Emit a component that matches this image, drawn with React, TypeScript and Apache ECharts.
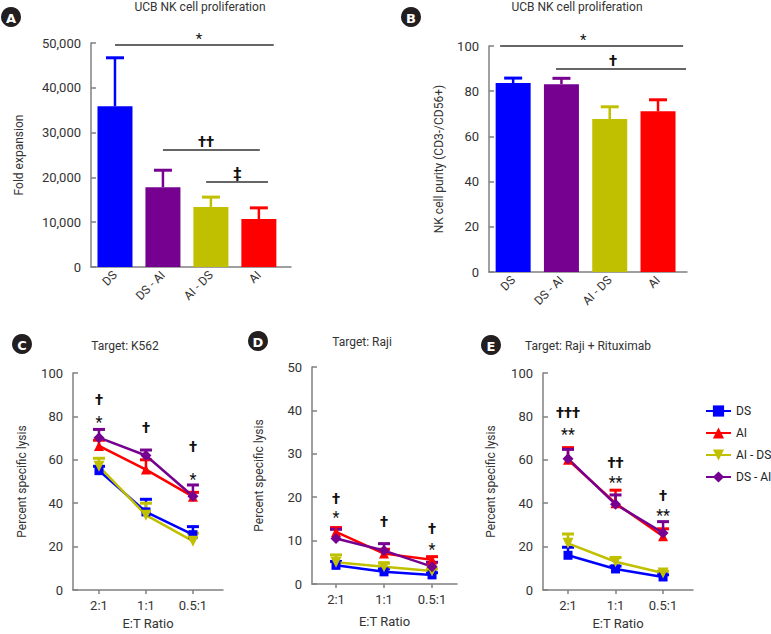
import React, { useEffect, useRef } from "react";
import * as echarts from "echarts";

// ---------- data ----------
const barCategories = ["DS", "DS - AI", "AI - DS", "AI"];
const barColors = ["#0000ff", "#76008f", "#c0c000", "#ff0000"];
const foldExpansion = [35900, 17800, 13400, 10700];
const foldExpansionUpper = [46700, 21600, 15600, 13200];
const nkPurity = [83.6, 83.1, 67.7, 71.1];
const nkPurityUpper = [85.8, 85.7, 73.1, 76.2];

const ratioLabels = ["2:1", "1:1", "0.5:1"];
const groupNames = ["DS", "AI", "AI - DS", "DS - AI"];
const groupColors = ["#0000ff", "#ff0000", "#c0c000", "#76008f"];
const groupSymbols = ["rect", "triangle", "triangle", "diamond"];
const groupSymbolRotate = [0, 0, 180, 0];
const groupSymbolSize = [9, 10, 11, 11];

// Target: K562
const k562DS = [55, 36, 25.5];
const k562AI = [66.4, 55.5, 43];
const k562AIDS = [57, 34.5, 22.5];
const k562DSAI = [70.2, 62, 43.2];
const k562DSUpper = [57, 41.8, 29.2];
const k562AIUpper = [69, 60, 45];
const k562AIDSUpper = [60.7, 40, 26.2];
const k562DSAIUpper = [74, 64.5, 48.4];

// Target: Raji
const rajiDS = [4.3, 2.8, 2.1];
const rajiAI = [12, 7, 5.6];
const rajiAIDS = [5, 4, 3];
const rajiDSAI = [10.5, 7.7, 4];
const rajiDSUpper = [5.2, 3.5, 2.6];
const rajiAIUpper = [13, 8, 6.3];
const rajiAIDSUpper = [6.7, 4.8, 3.5];
const rajiDSAIUpper = [12.6, 9.3, 5];

// Target: Raji + Rituximab
const ritDS = [16, 9.7, 6];
const ritAI = [60, 40, 24.8];
const ritAIDS = [21.5, 13, 7.8];
const ritDSAI = [60.5, 39.5, 26.3];
const ritDSUpper = [19.7, 11, 7];
const ritAIUpper = [65.6, 46, 28.2];
const ritAIDSUpper = [25.8, 15, 8.7];
const ritDSAIUpper = [64.8, 43.8, 31.5];

// significance brackets (x in category index units, y in data units)
const sigA = [
  { x1: 0, x2: 3.31, y: 49550, lx: 1.75, text: "*" },
  { x1: 1, x2: 3.02, y: 26100, lx: 1.9, text: "††" },
  { x1: 1.9, x2: 3.19, y: 19000, lx: 2.55, text: "‡" },
];
const sigB = [
  { x1: -0.27, x2: 3.52, y: 100, lx: 1.45, text: "*" },
  { x1: 0.887, x2: 3.58, y: 89.8, lx: 2.07, text: "†" },
];
const annC = [
  { x: 0, y: 87.6, text: "†" },
  { x: 0, y: 78.7, text: "*" },
  { x: 1, y: 74.8, text: "†" },
  { x: 2, y: 66, text: "†" },
  { x: 2, y: 52.5, text: "*" },
];
const annD = [
  { x: 0, y: 19.7, text: "†" },
  { x: 0, y: 15.9, text: "*" },
  { x: 1, y: 14.4, text: "†" },
  { x: 2, y: 12.6, text: "†" },
  { x: 2, y: 8.6, text: "*" },
];
const annE = [
  { x: 0, y: 81.7, text: "†††" },
  { x: 0, y: 73, text: "**" },
  { x: 1, y: 58.7, text: "††" },
  { x: 1, y: 50.7, text: "**" },
  { x: 2, y: 43.5, text: "†" },
  { x: 2, y: 35.6, text: "**" },
];

// ---------- styles ----------
const FONT = 'Roboto, "Liberation Sans", sans-serif';
const AXIS_COLOR = "#808080";
const TEXT_COLOR = "#333";

function makeYAxis(gridIndex: number, max: number, interval: number, name: string, nameGap: number, formatter?: any) {
  return {
    type: "value",
    gridIndex,
    min: 0,
    max,
    interval,
    name,
    nameLocation: "middle",
    nameGap,
    nameTextStyle: { fontFamily: FONT, fontSize: 12, color: TEXT_COLOR },
    axisLine: { show: true, onZero: false, lineStyle: { color: AXIS_COLOR, width: 1.5 } },
    axisTick: { show: true, inside: true, length: 5, lineStyle: { color: AXIS_COLOR, width: 1.5 } },
    splitLine: { show: false },
    axisLabel: { fontFamily: FONT, fontSize: 13, color: TEXT_COLOR, margin: 10, formatter },
  };
}

function makeBarXAxis(gridIndex: number, max: number) {
  return {
    type: "value",
    gridIndex,
    min: -0.5,
    max,
    axisLine: { show: true, onZero: false, lineStyle: { color: AXIS_COLOR, width: 1.5 } },
    axisTick: { show: false },
    splitLine: { show: false },
    axisLabel: {
      customValues: [0, 1, 2, 3],
      formatter: (v: number) => barCategories[v] ?? "",
      rotate: 45,
      margin: 6,
      fontFamily: FONT,
      fontSize: 12,
      color: TEXT_COLOR,
    },
  };
}

function makeRatioXAxis(gridIndex: number, min: number, max: number, nameGap: number) {
  return {
    type: "value",
    gridIndex,
    min,
    max,
    name: "E:T Ratio",
    nameLocation: "middle",
    nameGap,
    nameTextStyle: { fontFamily: FONT, fontSize: 13, color: TEXT_COLOR },
    axisLine: { show: true, onZero: false, lineStyle: { color: AXIS_COLOR, width: 1.5 } },
    axisTick: { show: true, customValues: [0, 1, 2], length: 4, lineStyle: { color: AXIS_COLOR, width: 1.5 } },
    splitLine: { show: false },
    axisLabel: {
      customValues: [0, 1, 2],
      formatter: (v: number) => ratioLabels[v] ?? "",
      margin: 9,
      fontFamily: FONT,
      fontSize: 13,
      color: TEXT_COLOR,
    },
  };
}

function errorBarSeries(axisIndex: number, values: number[], uppers: number[], color: string | string[], capWidth: number) {
  return {
    type: "custom",
    xAxisIndex: axisIndex,
    yAxisIndex: axisIndex,
    z: 1,
    silent: true,
    data: values.map((v, i) => [i, v, uppers[i]]),
    encode: { x: 0, y: [1, 2] },
    renderItem: (params: any, api: any) => {
      const i = params.dataIndex;
      const c = Array.isArray(color) ? color[i] : color;
      const p0 = api.coord([api.value(0), api.value(1)]);
      const p1 = api.coord([api.value(0), api.value(2)]);
      return {
        type: "group",
        children: [
          { type: "line", shape: { x1: p0[0], y1: p0[1], x2: p1[0], y2: p1[1] }, style: { stroke: c, lineWidth: 2.5 } },
          {
            type: "line",
            shape: { x1: p1[0] - capWidth / 2, y1: p1[1], x2: p1[0] + capWidth / 2, y2: p1[1] },
            style: { stroke: c, lineWidth: 3 },
          },
        ],
      };
    },
  };
}

function sigSeries(axisIndex: number, items: any[]) {
  return {
    type: "custom",
    xAxisIndex: axisIndex,
    yAxisIndex: axisIndex,
    z: 5,
    silent: true,
    data: items.map((it) => [it.x1, it.y]),
    encode: { x: 0, y: 1 },
    renderItem: (params: any, api: any) => {
      const it = items[params.dataIndex];
      const p1 = api.coord([it.x1, it.y]);
      const p2 = api.coord([it.x2, it.y]);
      const pl = api.coord([it.lx, it.y]);
      return {
        type: "group",
        children: [
          { type: "line", shape: { x1: p1[0], y1: p1[1], x2: p2[0], y2: p2[1] }, style: { stroke: "#333", lineWidth: 1.5 } },
          {
            type: "text",
            x: pl[0],
            y: pl[1] - (it.text === "*" ? -1 : 1),
            style: {
              text: it.text,
              align: "center",
              verticalAlign: "bottom",
              fill: "#111",
              fontFamily: FONT,
              fontSize: 15,
              fontWeight: it.text === "*" ? "normal" : "bold",
            },
          },
        ],
      };
    },
  };
}

function annSeries(axisIndex: number, items: any[]) {
  return {
    type: "custom",
    xAxisIndex: axisIndex,
    yAxisIndex: axisIndex,
    z: 5,
    silent: true,
    data: items.map((it) => [it.x, it.y]),
    encode: { x: 0, y: 1 },
    renderItem: (params: any, api: any) => {
      const it = items[params.dataIndex];
      const p = api.coord([it.x, it.y]);
      const isStar = it.text.indexOf("*") >= 0;
      return {
        type: "text",
        x: p[0],
        y: p[1] + (isStar ? 3 : 0),
        style: {
          text: it.text,
          align: "center",
          verticalAlign: "middle",
          fill: "#111",
          fontFamily: FONT,
          fontSize: isStar ? 16 : 15,
          fontWeight: isStar ? "normal" : "bold",
        },
      };
    },
  };
}

function groupSeries(axisIndex: number, sets: number[][], uppers: number[][]) {
  const out: any[] = [];
  sets.forEach((vals, g) => {
    out.push(errorBarSeries(axisIndex, vals, uppers[g], groupColors[g], 12));
  });
  sets.forEach((vals, g) => {
    out.push({
      type: "line",
      name: groupNames[g],
      xAxisIndex: axisIndex,
      yAxisIndex: axisIndex,
      z: 3,
      data: vals.map((v, i) => [i, v]),
      symbol: groupSymbols[g],
      symbolRotate: groupSymbolRotate[g],
      symbolSize: groupSymbolSize[g],
      itemStyle: { color: groupColors[g] },
      lineStyle: { color: groupColors[g], width: 2.5 },
    });
  });
  return out;
}

const badges = [
  { label: "A", x: 11, y: 17 },
  { label: "B", x: 411, y: 17 },
  { label: "C", x: 22, y: 344 },
  { label: "D", x: 258, y: 341 },
  { label: "E", x: 491, y: 345 },
];

export default function App() {
  const ref = useRef<HTMLDivElement>(null);

  useEffect(() => {
    document.body.style.margin = "0";
    if (!ref.current) return;
    const chart = echarts.init(ref.current, undefined, { renderer: "svg" });

    const titleStyle = { fontFamily: FONT, fontSize: 12, color: TEXT_COLOR, fontWeight: "normal" };
    const option: any = {
      animation: false,
      backgroundColor: "#ffffff",
      title: [
        { text: "UCB NK cell proliferation", left: 200, top: 1, textAlign: "center", textStyle: titleStyle, padding: 0 },
        { text: "UCB NK cell proliferation", left: 577, top: 1, textAlign: "center", textStyle: titleStyle, padding: 0 },
        { text: "Target: K562", left: 125, top: 340, textAlign: "center", textStyle: titleStyle, padding: 0 },
        { text: "Target: Raji", left: 362, top: 336, textAlign: "center", textStyle: titleStyle, padding: 0 },
        { text: "Target: Raji + Rituximab", left: 588, top: 340, textAlign: "center", textStyle: titleStyle, padding: 0 },
      ],
      legend: {
        data: groupNames,
        orient: "vertical",
        left: 700,
        top: 400,
        itemWidth: 25,
        itemHeight: 14,
        itemGap: 10,
        textStyle: { fontFamily: FONT, fontSize: 12, color: "#222" },
      },
      grid: [
        { left: 91, top: 43, width: 200, height: 224 },
        { left: 489, top: 46, width: 198, height: 226 },
        { left: 73, top: 373, width: 150, height: 217 },
        { left: 312, top: 367, width: 145, height: 217 },
        { left: 543, top: 373, width: 150, height: 217 },
      ],
      xAxis: [
        makeBarXAxis(0, 3.67),
        makeBarXAxis(1, 3.6),
        makeRatioXAxis(2, -0.553, 2.64, 27),
        makeRatioXAxis(3, -0.5, 2.52, 31),
        makeRatioXAxis(4, -0.526, 2.63, 27),
      ],
      yAxis: [
        makeYAxis(0, 50000, 10000, "Fold expansion", 66, (v: number) => v.toLocaleString("en-US")),
        makeYAxis(1, 100, 20, "NK cell purity (CD3-/CD56+)", 44),
        makeYAxis(2, 100, 20, "Percent specific lysis", 45),
        makeYAxis(3, 50, 10, "Percent specific lysis", 47),
        makeYAxis(4, 100, 20, "Percent specific lysis", 46),
      ],
      graphic: badges.map((b) => ({
        type: "group",
        x: b.x,
        y: b.y,
        children: [
          { type: "circle", shape: { cx: 0, cy: 0, r: 10 }, style: { fill: "#231f20" } },
          {
            type: "text",
            x: 0,
            y: 1,
            style: {
              text: b.label,
              align: "center",
              verticalAlign: "middle",
              fill: "#ffffff",
              fontFamily: '"DejaVu Sans", sans-serif',
              fontWeight: "bold",
              fontSize: 13,
            },
          },
        ],
      })),
      series: [
        errorBarSeries(0, foldExpansion, foldExpansionUpper, barColors, 18),
        {
          type: "bar",
          name: "Fold expansion",
          xAxisIndex: 0,
          yAxisIndex: 0,
          barWidth: 35,
          z: 2,
          data: foldExpansion.map((v, i) => ({ value: [i, v], itemStyle: { color: barColors[i] } })),
        },
        sigSeries(0, sigA),
        errorBarSeries(1, nkPurity, nkPurityUpper, barColors, 18),
        {
          type: "bar",
          name: "NK cell purity",
          xAxisIndex: 1,
          yAxisIndex: 1,
          barWidth: 35,
          z: 2,
          data: nkPurity.map((v, i) => ({ value: [i, v], itemStyle: { color: barColors[i] } })),
        },
        sigSeries(1, sigB),
        ...groupSeries(2, [k562DS, k562AI, k562AIDS, k562DSAI], [k562DSUpper, k562AIUpper, k562AIDSUpper, k562DSAIUpper]),
        annSeries(2, annC),
        ...groupSeries(3, [rajiDS, rajiAI, rajiAIDS, rajiDSAI], [rajiDSUpper, rajiAIUpper, rajiAIDSUpper, rajiDSAIUpper]),
        annSeries(3, annD),
        ...groupSeries(4, [ritDS, ritAI, ritAIDS, ritDSAI], [ritDSUpper, ritAIUpper, ritAIDSUpper, ritDSAIUpper]),
        annSeries(4, annE),
      ],
    };

    chart.setOption(option);
    return () => chart.dispose();
  }, []);

  return <div ref={ref} style={{ width: 771, height: 634 }} />;
}
